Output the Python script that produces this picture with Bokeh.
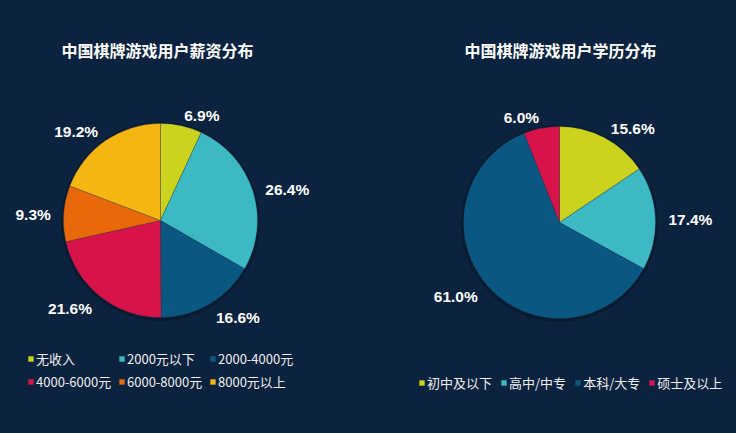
import numpy as np
from bokeh.plotting import figure
from bokeh.models import ColumnDataSource, Range1d, Legend, LegendItem
from bokeh.core.properties import value
from bokeh.embed import file_html
from bokeh.resources import INLINE
from jinja2 import Template

# ---------------- data ----------------
income_title = "中国棋牌游戏用户薪资分布"
income_labels = ["无收入", "2000元以下", "2000-4000元", "4000-6000元", "6000-8000元", "8000元以上"]
income_values = [6.9, 26.4, 16.6, 21.6, 9.3, 19.2]
income_colors = ["#ccd31e", "#3cb9c3", "#0a5782", "#d8134a", "#e8680a", "#f6b612"]

edu_title = "中国棋牌游戏用户学历分布"
edu_labels = ["初中及以下", "高中/中专", "本科/大专", "硕士及以上"]
edu_values = [15.6, 17.4, 61.0, 6.0]
edu_colors = ["#ccd31e", "#3cb9c3", "#0a5782", "#d8134a"]

# ---------------- layout / style ----------------
PAGE_W, PAGE_H = 736, 433
BG = "#0c233f"
CJK = "Noto Sans CJK SC"

p = figure(width=PAGE_W, height=PAGE_H, x_range=Range1d(0, PAGE_W), y_range=Range1d(0, PAGE_H),
           output_backend="svg", toolbar_location=None, min_border=0,
           x_axis_location=None, y_axis_location=None)
p.grid.visible = False
p.outline_line_color = None
p.background_fill_color = BG
p.border_fill_color = BG


def add_pie(values, labels, colors, title, cx, cy_page, r, title_x, legend_xy, ncols,
            spacing, label_width):
    cy = PAGE_H - cy_page
    v = np.array(values, dtype=float)
    frac = v / v.sum()
    cum = np.concatenate([[0.0], np.cumsum(frac)])
    start = np.pi / 2 - 2 * np.pi * cum[:-1]
    end = np.pi / 2 - 2 * np.pi * cum[1:]
    mid = (start + end) / 2
    L = r + 13
    lx = cx + L * np.cos(mid)
    ly = cy + L * np.sin(mid) - 2
    align = ["left" if c >= 0 else "right" for c in np.cos(mid)]
    txt = [f"{x:.1f}%" for x in values]
    src = ColumnDataSource(dict(start=start, end=end, color=colors, label=labels,
                                lx=lx, ly=ly, align=align, txt=txt))
    # soft shadow
    p.circle(x=cx, y=cy - 1, radius=r + 2.5, fill_color="black", fill_alpha=0.22, line_color=None)
    w = p.wedge(x=cx, y=cy, radius=r, start_angle="start", end_angle="end", direction="clock",
                fill_color="color", line_color="#1a3550", line_alpha=0.45, line_width=0.6, source=src)
    p.text(x="lx", y="ly", text="txt", text_align="align", text_baseline="middle",
           text_font=value("Liberation Sans"), text_font_style="bold", text_font_size="15.5px",
           text_color="white", source=src)
    p.text(x=[title_x], y=[PAGE_H - 49], text=[title], text_align="center", text_baseline="middle",
           text_font=value(CJK), text_font_style="bold", text_font_size="16px", text_color="white")
    items = [LegendItem(label=lab, renderers=[w], index=i) for i, lab in enumerate(labels)]
    leg = Legend(items=items, location=legend_xy, orientation="horizontal", ncols=ncols,
                 glyph_width=7, glyph_height=7, label_standoff=2, spacing=spacing,
                 padding=0, margin=0, label_height=14, label_width=label_width,
                 background_fill_alpha=0, border_line_alpha=0,
                 label_text_color="#eeeeee", label_text_font=CJK, label_text_font_size="13px")
    p.add_layout(leg)


add_pie(income_values, income_labels, income_colors, income_title, 160, 220, 97, 157,
        (27, 42), 3, 4, 78)
add_pie(edu_values, edu_labels, edu_colors, edu_title, 559, 222, 96, 560,
        (418, 41), len(edu_labels), 8, 20)

tmpl = Template("""{% extends base %}
{% block preamble %}<style>html, body { background: #0c233f; margin: 0; padding: 0; }</style>{% endblock %}""")

open("out.html", "w").write(file_html(p, INLINE, template=tmpl))
